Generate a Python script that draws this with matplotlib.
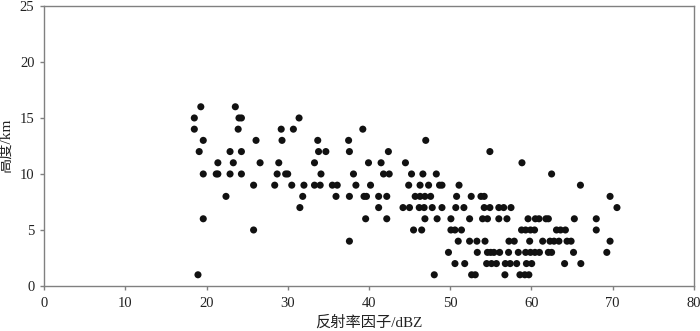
import matplotlib
matplotlib.use("Agg")
import matplotlib.pyplot as plt

plt.rcParams["font.family"] = ["Liberation Serif", "Noto Sans CJK SC"]

# reflectivity (dBZ) readings grouped by height level (km)
heights = [16, 15, 14, 13, 12, 11, 10, 9, 8, 7, 6, 5, 4, 3, 2, 1]
dbz_by_height = [
    [19.3, 23.55],
    [18.5, 24.0, 24.3, 31.4],
    [18.5, 23.9, 29.2, 30.7, 39.25],
    [19.6, 26.1, 29.3, 33.7, 37.5, 47.0],
    [19.1, 22.9, 24.3, 33.8, 34.7, 37.6, 42.4, 54.9],
    [21.4, 23.3, 26.6, 28.9, 33.3, 39.95, 41.5, 44.5, 58.85],
    [19.6, 21.2, 21.4, 22.9, 24.3, 28.7, 29.75, 30.0, 34.1, 38.1, 41.8,
     42.5, 45.25, 46.65, 48.3, 62.5],
    [25.8, 28.4, 30.5, 32.0, 33.3, 34.0, 35.5, 36.1, 38.4, 40.2, 44.9,
     46.3, 47.35, 48.7, 49.0, 51.1, 66.05],
    [22.4, 31.85, 35.95, 37.6, 39.4, 39.7, 41.2, 42.2, 45.7, 46.3, 46.9,
     47.6, 50.8, 52.6, 53.8, 54.2, 69.7],
    [31.5, 41.2, 44.2, 45.0, 46.2, 46.8, 47.8, 49.0, 50.7, 51.7, 54.2,
     54.9, 56.0, 56.6, 57.5, 70.55],
    [19.6, 39.6, 42.2, 46.9, 48.4, 50.1, 52.4, 54.0, 54.6, 56.0, 57.0,
     59.6, 60.5, 60.95, 61.8, 62.1, 65.3, 68.0],
    [25.8, 45.5, 46.5, 50.1, 50.6, 51.4, 58.8, 59.3, 59.9, 60.4, 63.1,
     63.6, 64.2, 68.0],
    [37.6, 51.0, 52.4, 53.3, 54.3, 57.25, 57.9, 59.8, 61.4, 62.3, 62.8,
     63.4, 64.4, 64.9, 69.7],
    [49.8, 53.35, 54.6, 55.0, 55.4, 56.1, 57.2, 58.4, 59.3, 59.9, 60.45,
     61.0, 62.1, 62.5, 65.2, 69.3],
    [50.6, 51.8, 54.5, 55.1, 55.7, 56.8, 57.4, 58.2, 59.4, 60.05, 64.1, 66.1],
    [18.95, 48.05, 52.65, 53.1, 56.75, 58.6, 59.2, 59.7],
]
x_ticks = [0, 10, 20, 30, 40, 50, 60, 70, 80]
y_ticks = [0, 5, 10, 15, 20, 25]

xs, ys = [], []
for h, row in zip(heights, dbz_by_height):
    xs += row
    ys += [h] * len(row)

fig = plt.figure(figsize=(7, 3.31), dpi=100)
ax = fig.add_axes([0.063, 0.136, 0.928, 0.846])

ax.scatter(xs, ys, s=26, color="#111111", edgecolors="none", zorder=3)

ax.set_xlim(0, 80)
ax.set_ylim(0, 25)
ax.set_xticks(x_ticks)
ax.set_yticks(y_ticks)

for sp in ax.spines.values():
    sp.set_color("#808080")
    sp.set_linewidth(1)
ax.tick_params(direction="out", length=3, width=1, color="#808080",
               labelsize=10.5, labelcolor="#222222")
ax.tick_params(axis="x", pad=5)
ax.tick_params(axis="y", pad=4)

ax.set_xlabel("反射率因子/dBZ", fontsize=11, color="#222222", labelpad=4)
ax.set_ylabel("高度/km", fontsize=11, color="#222222", labelpad=5)

fig.savefig("out.png", dpi=100)
